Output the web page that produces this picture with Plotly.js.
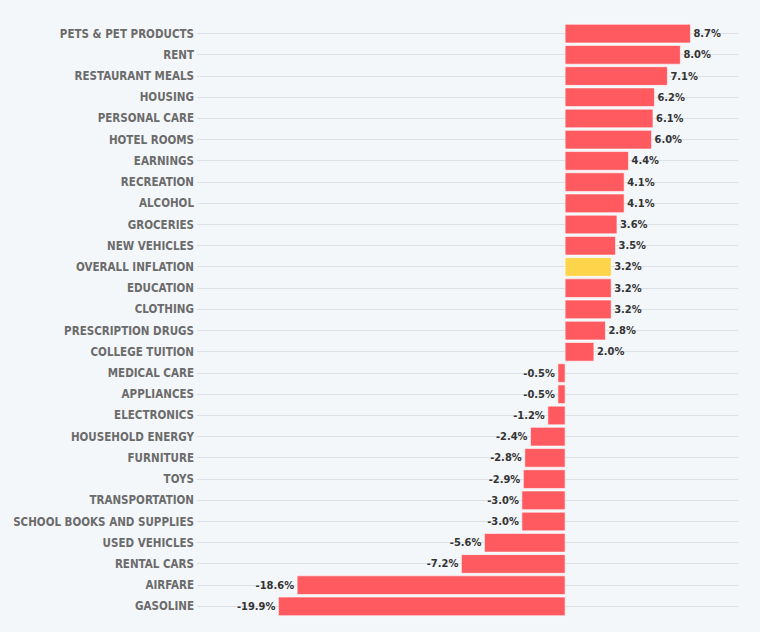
<!DOCTYPE html>
<html>
<head>
<meta charset="utf-8">
<script src="https://cdn.plot.ly/plotly-3.0.1.min.js"></script>
<style>
html,body{margin:0;padding:0;background:#f4f7fa;}
#chart{width:760px;height:632px;}
</style>
</head>
<body>
<div id="chart"></div>
<script>
const categories = [
  "PETS & PET PRODUCTS","RENT","RESTAURANT MEALS","HOUSING","PERSONAL CARE","HOTEL ROOMS",
  "EARNINGS","RECREATION","ALCOHOL","GROCERIES","NEW VEHICLES","OVERALL INFLATION",
  "EDUCATION","CLOTHING","PRESCRIPTION DRUGS","COLLEGE TUITION","MEDICAL CARE","APPLIANCES",
  "ELECTRONICS","HOUSEHOLD ENERGY","FURNITURE","TOYS","TRANSPORTATION",
  "SCHOOL BOOKS AND SUPPLIES","USED VEHICLES","RENTAL CARS","AIRFARE","GASOLINE"
];
const values = [8.7,8.0,7.1,6.2,6.1,6.0,4.4,4.1,4.1,3.6,3.5,3.2,3.2,3.2,2.8,2.0,-0.5,-0.5,-1.2,-2.4,-2.8,-2.9,-3.0,-3.0,-5.6,-7.2,-18.6,-19.9];
const highlight = "OVERALL INFLATION";
const colors = categories.map(c => c === highlight ? "#fdd44a" : "#ff5a5f");
const labels = values.map(v => v.toFixed(1) + "%");

Plotly.newPlot("chart", [{
  type: "bar",
  orientation: "h",
  x: values,
  y: categories,
  marker: {color: colors, line: {color: "rgba(255,255,255,0.6)", width: 1}},
  text: labels,
  textposition: "outside",
  cliponaxis: false,
  textfont: {family: "DejaVu Sans Condensed", size: 11, color: "#333333", weight: "bold"},
  hoverinfo: "none"
}], {
  width: 760, height: 632,
  paper_bgcolor: "#f4f7fa", plot_bgcolor: "#f4f7fa",
  margin: {l: 197, r: 22, t: 23, b: 15},
  bargap: 0.12,
  showlegend: false,
  xaxis: {range: [-25.55, 12.0], showgrid: false, zeroline: false, showticklabels: false, fixedrange: true},
  yaxis: {autorange: "reversed", showgrid: true, gridcolor: "#dde1e6", gridwidth: 1,
    tickfont: {family: "DejaVu Sans Condensed", size: 11.5, color: "#6b6b6b", weight: "bold"},
    ticks: "", ticklabelstandoff: 2, fixedrange: true},
  font: {family: "DejaVu Sans Condensed"}
}, {displayModeBar: false, staticPlot: true});
</script>
</body>
</html>
